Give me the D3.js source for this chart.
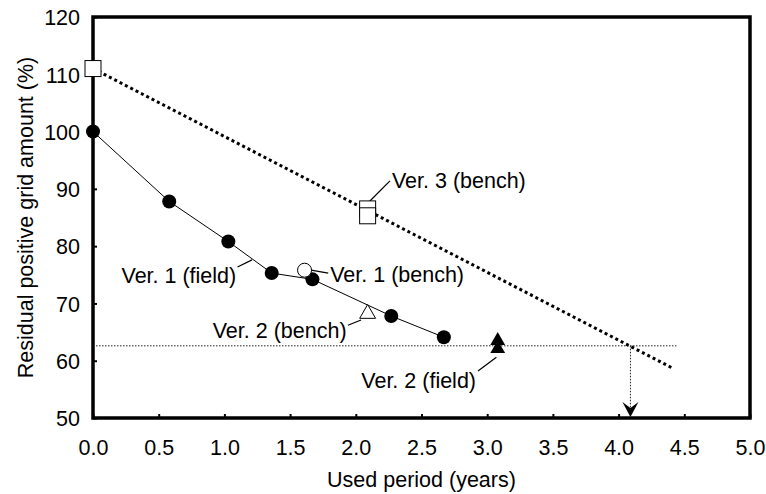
<!DOCTYPE html>
<html lang="en">
  <head>
    <meta charset="UTF-8" />
    <title>grid</title>
    <script src="https://cdnjs.cloudflare.com/ajax/libs/d3/7.9.0/d3.min.js"></script>
    <style>
      body {
        margin: 0;
        background: #fff;
      }
      text {
        font-family: "Liberation Sans", Arial, sans-serif;
        fill: #000;
      }
    </style>
  </head>
  <body>
    <div id="wrapper"></div>
    <script>
      // values: [years, %]
      const ver1Field = [
        [0, 100], [0.58, 87.8], [1.03, 80.8], [1.36, 75.3],
        [1.67, 74.2], [2.27, 67.8], [2.67, 64.1],
      ];
      const ver1Bench = [[1.61, 75.8]];
      const ver2Bench = [[2.09, 68.2]];
      const ver2Field = [[3.08, 63.5], [3.08, 62.1]];
      const ver3Bench = [[0, 111], [2.09, 86.5], [2.09, 85.3]];
      const ver3Trend = [[0, 111], [4.42, 58.6]];
      const limitLevel = 62.6;
      const limitEnd = 4.44;
      const lifeYears = 4.09;

      const xTicks = [0, 0.5, 1, 1.5, 2, 2.5, 3, 3.5, 4, 4.5, 5];
      const yTicks = [50, 60, 70, 80, 90, 100, 110, 120];

      // label text, anchor point, leader line (all in data units)
      const labels = [
        { text: "Ver. 3 (bench)", x: 2.275, y: 91.5, anchor: "start", from: [2.1, 87.7], to: [2.26, 91.4] },
        { text: "Ver. 1 (field)", x: 1.09, y: 75.0, anchor: "end", from: [1.1, 76.35], to: [1.21, 77.6] },
        { text: "Ver. 1 (bench)", x: 1.805, y: 75.1, anchor: "start", from: [1.66, 75.8], to: [1.79, 75.3] },
        { text: "Ver. 2 (bench)", x: 1.93, y: 65.4, anchor: "end", from: [1.94, 66.2], to: [2.04, 67.1] },
        { text: "Ver. 2 (field)", x: 2.915, y: 56.6, anchor: "end", from: [2.93, 58.2], to: [3.07, 60.6] },
      ];

      const fontSize = "21.5px";
      const dimensions = {
        width: 766,
        height: 494,
        margin: { top: 17, right: 16, bottom: 76, left: 93 },
      };
      dimensions.boundedWidth =
        dimensions.width - dimensions.margin.left - dimensions.margin.right;
      dimensions.boundedHeight =
        dimensions.height - dimensions.margin.top - dimensions.margin.bottom;

      const svg = d3
        .select("#wrapper")
        .append("svg")
        .attr("width", dimensions.width)
        .attr("height", dimensions.height);

      const bounds = svg
        .append("g")
        .attr("transform", `translate(${dimensions.margin.left},${dimensions.margin.top})`);

      const xScale = d3.scaleLinear().domain([0, 5]).range([0, dimensions.boundedWidth]);
      const yScale = d3.scaleLinear().domain([50, 120]).range([dimensions.boundedHeight, 0]);
      const px = (d) => xScale(d[0]);
      const py = (d) => yScale(d[1]);

      // axes with inward ticks
      const xAxis = bounds
        .append("g")
        .attr("transform", `translate(0,${dimensions.boundedHeight})`)
        .call(d3.axisBottom(xScale).tickValues(xTicks).tickSize(-4).tickPadding(22).tickFormat(d3.format(".1f")));
      const yAxis = bounds
        .append("g")
        .call(d3.axisLeft(yScale).tickValues(yTicks).tickSize(-4).tickPadding(13).tickFormat(d3.format("d")));
      [xAxis, yAxis].forEach((a) => {
        a.select(".domain").remove();
        a.selectAll(".tick line").attr("stroke", "#000").attr("stroke-width", 2);
        a.selectAll(".tick text").style("font-size", fontSize);
      });
      yAxis.selectAll(".tick text").attr("dy", "0.36em");

      // frame
      bounds
        .append("rect")
        .attr("width", dimensions.boundedWidth)
        .attr("height", dimensions.boundedHeight)
        .attr("fill", "none")
        .attr("stroke", "#000")
        .attr("stroke-width", 3.5);

      // limit line and arrow down to the axis
      bounds
        .append("line")
        .attr("x1", xScale(0))
        .attr("x2", xScale(limitEnd))
        .attr("y1", yScale(limitLevel))
        .attr("y2", yScale(limitLevel))
        .attr("stroke", "#222")
        .attr("stroke-width", 1)
        .attr("stroke-dasharray", "1.5,1.5");
      bounds
        .append("line")
        .attr("x1", xScale(lifeYears))
        .attr("x2", xScale(lifeYears))
        .attr("y1", yScale(limitLevel))
        .attr("y2", yScale(50) - 10)
        .attr("stroke", "#222")
        .attr("stroke-width", 1)
        .attr("stroke-dasharray", "1.5,1.5");
      bounds
        .append("path")
        .attr("transform", `translate(${xScale(lifeYears)},${yScale(50) - 1})`)
        .attr("d", "M-8,-15L0,-9L8,-15L0,0Z")
        .attr("fill", "#000");

      // Ver. 3 trend (dotted)
      bounds
        .append("path")
        .attr("d", d3.line().x(px).y(py)(ver3Trend))
        .attr("fill", "none")
        .attr("stroke", "#000")
        .attr("stroke-width", 3)
        .attr("stroke-dasharray", "3,3");

      // Ver. 1 field line
      bounds
        .append("path")
        .attr("d", d3.line().x(px).y(py)(ver1Field))
        .attr("fill", "none")
        .attr("stroke", "#000")
        .attr("stroke-width", 1);

      // leader lines + labels
      bounds
        .selectAll(".leader")
        .data(labels)
        .join("line")
        .attr("x1", (d) => px(d.from))
        .attr("y1", (d) => py(d.from))
        .attr("x2", (d) => px(d.to))
        .attr("y2", (d) => py(d.to))
        .attr("stroke", "#000")
        .attr("stroke-width", 1.2);
      bounds
        .selectAll(".label")
        .data(labels)
        .join("text")
        .attr("x", (d) => xScale(d.x))
        .attr("y", (d) => yScale(d.y))
        .attr("dy", "0.36em")
        .attr("text-anchor", (d) => d.anchor)
        .style("font-size", fontSize)
        .text((d) => d.text);

      // markers
      const sym = (type, size) => d3.symbol().type(type).size(size)();
      bounds
        .selectAll(".v3")
        .data(ver3Bench)
        .join("rect")
        .attr("x", (d) => px(d) - 8)
        .attr("y", (d) => py(d) - 8)
        .attr("width", 16)
        .attr("height", 16)
        .attr("fill", "#fff")
        .attr("stroke", "#000")
        .attr("stroke-width", 1);
      bounds
        .selectAll(".v1f")
        .data(ver1Field)
        .join("circle")
        .attr("cx", px)
        .attr("cy", py)
        .attr("r", 7)
        .attr("fill", "#000");
      bounds
        .selectAll(".v1b")
        .data(ver1Bench)
        .join("circle")
        .attr("cx", px)
        .attr("cy", py)
        .attr("r", 7)
        .attr("fill", "#fff")
        .attr("stroke", "#000")
        .attr("stroke-width", 1);
      bounds
        .selectAll(".v2b")
        .data(ver2Bench)
        .join("path")
        .attr("transform", (d) => `translate(${px(d)},${py(d)})`)
        .attr("d", sym(d3.symbolTriangle, 110))
        .attr("fill", "#fff")
        .attr("stroke", "#000")
        .attr("stroke-width", 1);
      bounds
        .selectAll(".v2f")
        .data(ver2Field)
        .join("path")
        .attr("transform", (d) => `translate(${px(d)},${py(d)})`)
        .attr("d", sym(d3.symbolTriangle, 95))
        .attr("fill", "#000");

      // axis titles
      svg
        .append("text")
        .attr("x", dimensions.margin.left + dimensions.boundedWidth / 2)
        .attr("y", 487)
        .attr("text-anchor", "middle")
        .style("font-size", fontSize)
        .text("Used period (years)");
      svg
        .append("text")
        .attr("transform", `translate(33,${dimensions.margin.top + dimensions.boundedHeight / 2}) rotate(-90)`)
        .attr("text-anchor", "middle")
        .style("font-size", fontSize)
        .text("Residual positive grid amount (%)");
    </script>
  </body>
</html>
